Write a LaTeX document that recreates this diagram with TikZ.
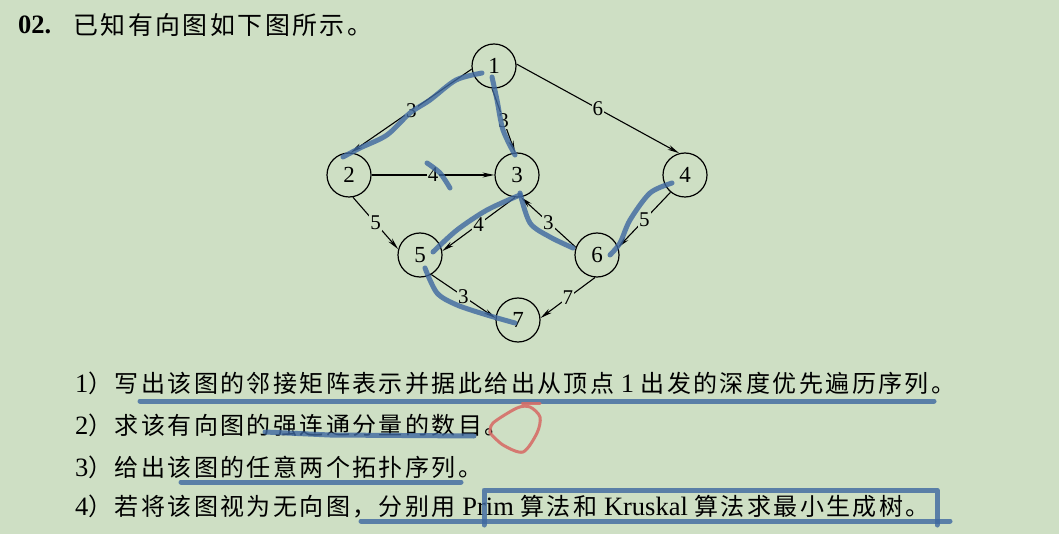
\documentclass[tikz,border=0pt]{standalone}
\usepackage{fontspec}
\setmainfont{Liberation Serif}
\newfontfamily\cjk[LetterSpace=10, Scale=0.906]{Noto Sans CJK SC}
\usetikzlibrary{arrows.meta}
\definecolor{paper}{RGB}{206,223,196}
\definecolor{pen}{RGB}{62,104,160}
\definecolor{redpen}{RGB}{214,110,104}
\begin{document}
\begin{tikzpicture}[x=1pt, y=-1pt, >={Stealth[length=12pt,width=5pt]},
  vertex/.style={circle, draw, line width=1.2pt, minimum size=44pt, inner sep=0pt, font=\fontsize{23}{23}\selectfont},
  weight/.style={fill=paper, inner sep=1pt, font=\fontsize{21}{21}\selectfont},
  question/.style={anchor=west, inner sep=0pt, font=\fontsize{26.5}{26.5}\selectfont},
  ink/.style={pen, opacity=.8, line width=5pt, line cap=round, line join=round}]
\fill[paper] (0,0) rectangle (1059,534);
\useasboundingbox (0,0) rectangle (1059,534);
\node[question] (num) at (18,25) {\textbf{02.}};
\node[question, font=\fontsize{27.5}{27.5}\selectfont] (intro) at (73,25) {\cjk 已知有向图如下图所示。};
\node[vertex] (v1) at (494,66) {1};
\node[vertex] (v2) at (349,175) {2};
\node[vertex] (v3) at (517,175) {3};
\node[vertex] (v4) at (685,175) {4};
\node[vertex] (v5) at (420,255) {5};
\node[vertex] (v6) at (597,255) {6};
\node[vertex] (v7) at (518,320) {7};
\tikzset{->}
\draw[line width=1.1pt] (v1.188) -- (v2.85) node[weight, midway] {3};
\draw[line width=1.1pt] (v1.265) -- (v3.95) node[weight, midway] {3};
\draw[line width=1.1pt] (v1.5) -- (v4.105) node[weight, midway] {6};
\draw[line width=1.1pt] (v2) -- (v3) node[weight, midway] {4};
\draw[line width=1.1pt] (v2.-80) -- (v5.165) node[weight, midway] {5};
\draw[line width=1.1pt] (v3.-95) -- (v5.10) node[weight, midway] {4};
\draw[line width=1.1pt] (v6.160) -- (v3.-80) node[weight, midway] {3};
\draw[line width=1.1pt] (v4.-130) -- (v6.20) node[weight, midway] {5};
\draw[line width=1.1pt] (v5.-60) -- (v7.175) node[weight, midway] {3};
\draw[line width=1.1pt] (v6.-95) -- (v7.5) node[weight, midway] {7};
\tikzset{-}
\node[question] (q1) at (75,383) {1{\cjk ）写出该图的邻接矩阵表示并据此给出从顶点} 1 {\cjk 出发的深度优先遍历序列。}};
\node[question] (q2) at (75,425) {2{\cjk ）求该有向图的强连通分量的数目。}};
\node[question] (q3) at (75,467) {3{\cjk ）给出该图的任意两个拓扑序列。}};
\node[question] (q4) at (75,507) {4{\cjk ）若将该图视为无向图，分别用} Prim {\cjk 算法和} Kruskal {\cjk 算法求最小生成树。}};
\draw[ink] plot[smooth] coordinates {(482,73) (456,80) (430,100) (410,113) (387,135) (360,148) (343,157)};
\draw[ink] plot[smooth] coordinates {(492,77) (497,100) (503,130) (515,155)};
\draw[ink] plot[smooth] coordinates {(427,163) (440,173) (450,188)};
\draw[ink] plot[smooth] coordinates {(433,252) (457,230) (487,210) (520,195)};
\draw[ink] plot[smooth] coordinates {(520,193) (530,223) (550,237) (573,248)};
\draw[ink] plot[smooth] coordinates {(672,183) (650,193) (630,220) (620,243) (610,255)};
\draw[ink] plot[smooth] coordinates {(425,268) (437,293) (457,305) (487,315) (515,323)};
\draw[ink] (140,401) -- (934,401);
\draw[ink] (265,432) -- (330,435) -- (474,436);
\draw[ink] (181,482) -- (461,482);
\draw[ink] (361,521) -- (950,521);
\draw[ink] (484,525) -- (484,490) -- (937,490) -- (937,525);
\draw[redpen, opacity=.9, line width=3pt, line cap=round] (522,403) -- (540,403);
\draw[redpen, opacity=.9, line width=3pt, line cap=round] plot[smooth] coordinates {(490,433) (493,423) (517,408) (530,407) (540,417) (537,433) (523,452) (503,445) (490,433)};
\end{tikzpicture}
\end{document}
